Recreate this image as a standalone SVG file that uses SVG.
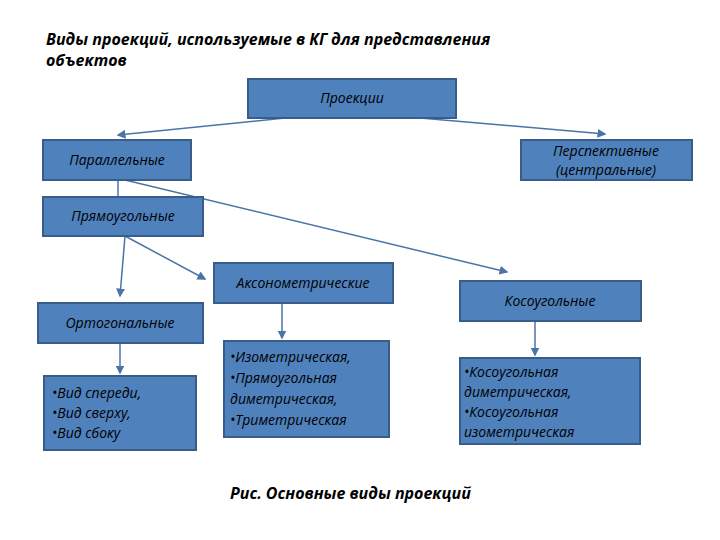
<svg xmlns="http://www.w3.org/2000/svg" width="720" height="540" viewBox="0 0 720 540">
<style>
.b{fill:#4F81BD;stroke:#385D8A;stroke-width:2}
.t{font-family:"Open Sans","DejaVu Sans",sans-serif;font-style:italic;font-size:14px;fill:#000}
.c{stroke:#4A74A8;stroke-width:1.5;fill:none;marker-end:url(#a)}
.h{font-family:"Open Sans","DejaVu Sans",sans-serif;font-style:italic;font-weight:bold;font-size:16px;fill:#000}
</style>
<defs><marker id="a" markerWidth="6" markerHeight="6" refX="5" refY="3" orient="auto"><path d="M0,0L6,3L0,6z" fill="#4A74A8"/></marker></defs>
<rect width="720" height="540" fill="#fff"/>
<text class="h" x="46" y="45">Виды проекций, используемые в КГ для представления</text>
<text class="h" x="46" y="66">объектов</text>
<g id="connectors">
<path class="c" d="M285,118L118,135"/>
<path class="c" d="M420,118L605,134"/>
<path d="M118,180V197" stroke="#4A74A8" stroke-width="1.5"/>
<path class="c" d="M125,180L507,272"/>
<path class="c" d="M125,236L120,296"/>
<path class="c" d="M125,236L205,279"/>
<path class="c" d="M282,303V338"/>
<path class="c" d="M535,321V355"/>
<path class="c" d="M120,343V373"/>
</g>
<g id="n1"><rect class="b" x="248" y="79" width="208" height="39"/><text class="t" x="352" y="103" text-anchor="middle">Проекции</text></g>
<g id="n2"><rect class="b" x="43" y="140" width="148" height="40"/><text class="t" x="117" y="165" text-anchor="middle">Параллельные</text></g>
<g id="n3"><rect class="b" x="521" y="140" width="171" height="40"/><text class="t" x="606" y="156" text-anchor="middle">Перспективные</text><text class="t" x="606" y="175" text-anchor="middle">(центральные)</text></g>
<g id="n4"><rect class="b" x="43" y="197" width="160" height="39"/><text class="t" x="123" y="221" text-anchor="middle">Прямоугольные</text></g>
<g id="n5"><rect class="b" x="214" y="263" width="179" height="40"/><text class="t" x="303" y="288" text-anchor="middle">Аксонометрические</text></g>
<g id="n6"><rect class="b" x="460" y="281" width="181" height="40"/><text class="t" x="550" y="306" text-anchor="middle">Косоугольные</text></g>
<g id="n7"><rect class="b" x="38" y="303" width="165" height="40"/><text class="t" x="120" y="328" text-anchor="middle">Ортогональные</text></g>
<g id="n8"><rect class="b" x="44" y="376" width="152" height="74"/><text class="t" x="52" y="398">•Вид спереди,</text><text class="t" x="52" y="418">•Вид сверху,</text><text class="t" x="52" y="438">•Вид сбоку</text></g>
<g id="n9"><rect class="b" x="224" y="341" width="165" height="96"/><text class="t" x="230" y="362">•Изометрическая,</text><text class="t" x="230" y="383">•Прямоугольная</text><text class="t" x="230" y="404">диметрическая,</text><text class="t" x="230" y="425">•Триметрическая</text></g>
<g id="n10"><rect class="b" x="460" y="358" width="180" height="86"/><text class="t" x="464" y="377">•Косоугольная</text><text class="t" x="464" y="397">диметрическая,</text><text class="t" x="464" y="417">•Косоугольная</text><text class="t" x="464" y="437">изометрическая</text></g>
<text class="h" x="230" y="499">Рис. Основные виды проекций</text>
</svg>
